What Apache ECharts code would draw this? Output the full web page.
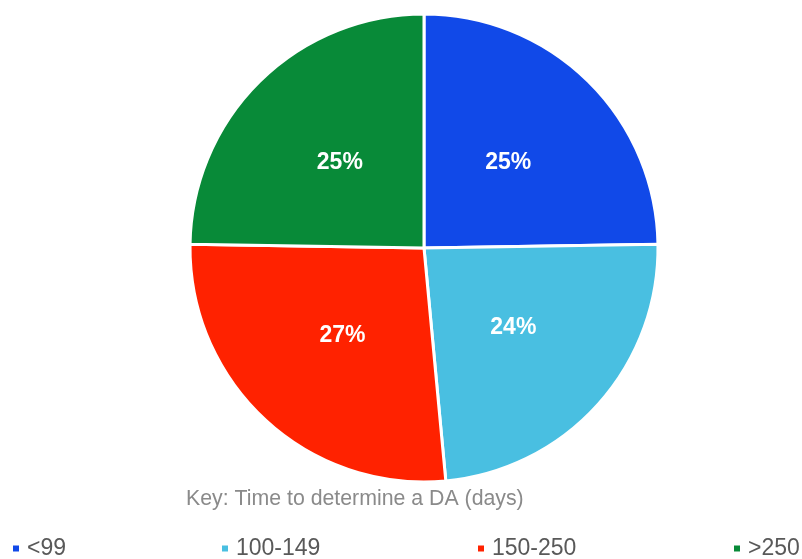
<!DOCTYPE html>
<html>
<head>
<meta charset="utf-8">
<script src="https://cdn.jsdelivr.net/npm/echarts@6/dist/echarts.min.js"></script>
<style>
  html, body { margin: 0; padding: 0; background: #fff; }
  #chart { width: 802px; height: 559px; }
</style>
</head>
<body>
<div id="chart"></div>
<script>
// Time taken to determine a development application, share by band (%)
const categories = ['<99', '100-149', '150-250', '>250'];
const shares = [25, 24, 27, 25];
const colors = ['#1149E8', '#49BFE1', '#FF2200', '#088A38'];
const keyTitle = 'Key: Time to determine a DA (days)';

const legendLeft = [11, 220, 476, 732];

const chart = echarts.init(document.getElementById('chart'), null, { renderer: 'canvas' });

chart.setOption({
  animation: false,
  title: {
    text: keyTitle,
    left: 186,
    top: 489,
    padding: 0,
    textStyle: {
      fontFamily: 'Liberation Sans, Arial, sans-serif',
      fontSize: 21.3,
      fontWeight: 'normal',
      color: '#8a8a8a'
    }
  },
  legend: categories.map((name, i) => ({
    data: [name],
    left: legendLeft[i],
    top: 537,
    padding: 0,
    icon: 'rect',
    itemWidth: 8,
    itemHeight: 8,
    textStyle: {
      fontFamily: 'Liberation Sans, Arial, sans-serif',
      fontSize: 23,
      color: '#595959',
      padding: [0, 0, 0, 2]
    },
    selectedMode: false
  })),
  series: [{
    type: 'pie',
    center: [424, 248],
    radius: [0, 234],
    startAngle: 90,
    clockwise: true,
    color: colors,
    itemStyle: { borderColor: '#ffffff', borderWidth: 3 },
    label: {
      show: true,
      position: 'inside',
      formatter: p => p.value + '%',
      color: '#ffffff',
      fontFamily: 'Liberation Sans, Arial, sans-serif',
      fontSize: 23,
      fontWeight: 'bold'
    },
    labelLine: { show: false },
    emphasis: { disabled: true },
    data: categories.map((name, i) => ({ name, value: shares[i] }))
  }]
});
</script>
</body>
</html>
